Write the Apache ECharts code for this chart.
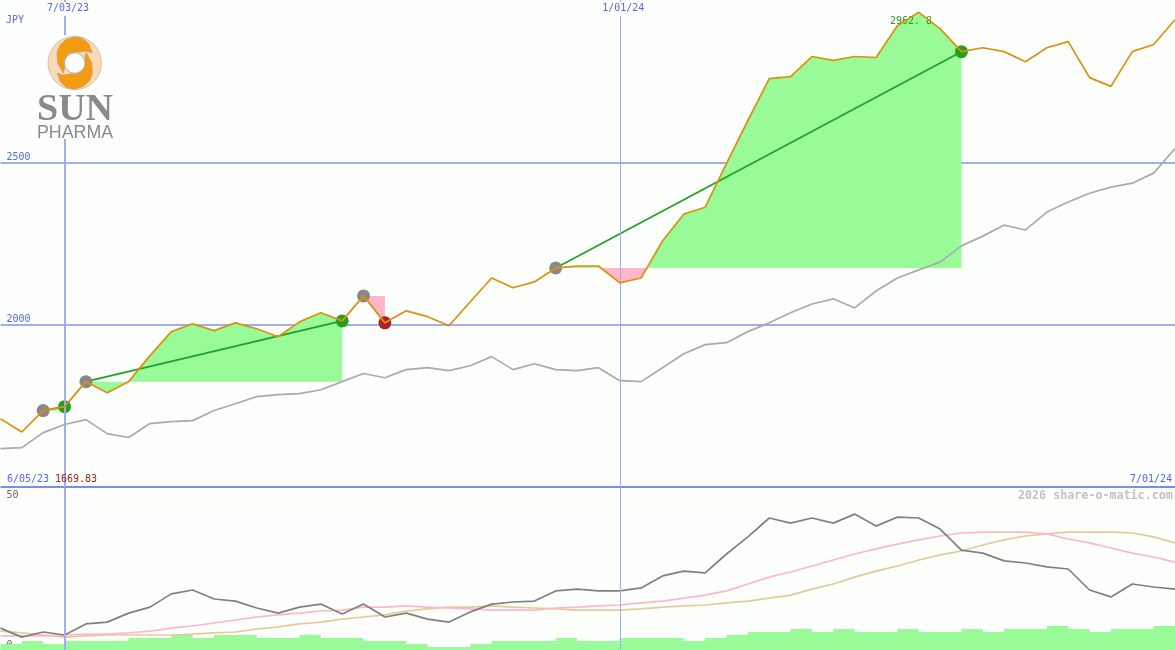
<!DOCTYPE html>
<html>
<head>
<meta charset="utf-8">
<title>SUN PHARMA</title>
<style>
  html, body { margin: 0; padding: 0; background: #fdfffd; }
  #chart { width: 1175px; height: 650px; }
</style>
<script src="https://cdn.jsdelivr.net/npm/echarts@6/dist/echarts.min.js"></script>
</head>
<body>
<div id="chart"></div>
<script>
// weekly dates, one per point
const weeks = ['6/12/23','6/19/23','6/26/23','7/03/23','7/10/23','7/17/23','7/24/23','7/31/23','8/07/23','8/14/23',
  '8/21/23','8/28/23','9/04/23','9/11/23','9/18/23','9/25/23','10/02/23','10/09/23','10/16/23','10/23/23',
  '10/30/23','11/06/23','11/13/23','11/20/23','11/27/23','12/04/23','12/11/23','12/18/23','12/25/23','1/01/24',
  '1/08/24','1/15/24','1/22/24','1/29/24','2/05/24','2/12/24','2/19/24','2/26/24','3/04/24','3/11/24',
  '3/18/24','3/25/24','4/01/24','4/08/24','4/15/24','4/22/24','4/29/24','5/06/24','5/13/24','5/20/24',
  '5/27/24','6/03/24','6/10/24','6/17/24','6/24/24','7/01/24'];

// price panel
const price = [1711,1670,1736,1748,1825,1791,1825,1905,1979,2003,1982,2006,1988,1963,2009,2037,2012,2089,2006,2043,
  2025,1997,2071,2144,2114,2132,2175,2181,2181,2129,2144,2258,2341,2362,2497,2629,2758,2764,2826,2814,
  2826,2823,2921,2962,2912,2841,2853,2841,2810,2853,2872,2761,2734,2841,2863,2939];
const benchmark = [1619,1622,1668,1693,1708,1665,1653,1696,1702,1705,1736,1757,1779,1785,1788,1800,1825,1850,1837,1862,
  1868,1859,1874,1902,1862,1880,1862,1859,1868,1828,1825,1868,1911,1939,1945,1979,2006,2037,2064,2080,
  2052,2104,2144,2169,2193,2243,2273,2307,2292,2347,2378,2405,2424,2436,2467,2543];
const priceTicks = [2000, 2500];

// lower panel
const oscillator = [7.3,4.3,6,5,8.7,9.3,12.3,14.3,18.7,20,17,16.3,14,12.3,14.3,15.3,12,15.3,11,12.3,
  10.3,9.3,12.7,15.3,16,16.3,19.7,20.3,19.7,19.7,20.7,24.7,26.3,25.7,32,37.7,44,42.3,44,42.3,
  45.3,41.3,44.3,44,40.3,33.3,32.3,29.7,29,27.7,27,20,17.7,22,21,20.3];
const avgFast = [4.7,4.7,4.7,5,5.3,5.3,5.7,6.3,7.3,8,9,10,11,11.7,12.3,13,13.3,14.3,14.3,14.7,
  14.3,14,13.7,13.3,13.3,13.3,14,14.3,14.7,15,15.7,16.3,17.3,18.3,19.7,22,24.3,26,28,30,
  32,33.7,35.3,36.7,38,39,39.3,39.3,39.3,38.7,37,35.7,34,32.3,31,29.3];
const avgSlow = [6.3,5.7,5,4.3,4.7,5,5,5,5,5.3,5.7,6,7,7.7,8.7,9.3,10.3,11,11.7,13,
  13.7,14.3,14.3,14.7,14.3,14,13.7,13.3,13.3,13.3,13.7,14.3,14.7,15,15.7,16.3,17.3,18.3,20.3,22,
  24.3,26.3,28,30,31.7,33,35,36.7,38,38.7,39.3,39.3,39.3,39,37.7,35.7];
const volume = [2,3,2,3,3,3,4,4,5,4,5,5,4,4,5,4,4,3,3,2,1,1,2,3,3,3,4,3,3,4,4,4,3,4,5,6,6,7,6,7,6,6,7,6,6,7,6,7,7,8,7,6,7,7,8,8];

// trades: index of the opening and of the closing week
const tradeOpen = [2, 4, 17, 26];
const tradeClose = [3, 16, 18, 45];

const markedWeeks = ['7/03/23', '1/01/24'];
const BG = '#fdfffd', BLUE = '#5566ee', MONO = '"DejaVu Sans Mono", monospace';
const GREEN = '#98fb98', PINK = '#ffb6c8', LINE_W = 1.7;

function noSymbolLine(name, data, color, z, gridIndex) {
  return {
    name: name, type: 'line', data: data, xAxisIndex: gridIndex, yAxisIndex: gridIndex,
    showSymbol: false, silent: true, animation: false, z: z,
    lineStyle: { color: color, width: LINE_W }
  };
}

// splits a trade into runs above/below its entry price, cut where the price crosses it
function tradeRuns(open, close) {
  const entry = price[open];
  const runs = [];
  let run = [[open, entry]];
  for (let i = open; i < close; i++) {
    const a = price[i] - entry, b = price[i + 1] - entry;
    if (a * b < 0) {
      const cross = i + a / (a - b);
      run.push([cross, entry]);
      runs.push(run);
      run = [[cross, entry]];
    }
    run.push([i + 1, price[i + 1]]);
  }
  run.push([close, entry]);
  runs.push(run);
  return runs;
}

function renderTrade(params, api) {
  const t = params.dataIndex;
  const entry = price[tradeOpen[t]];
  const toPixel = (x, v) => {
    const a = api.coord([Math.floor(x), v]);
    const b = api.coord([Math.ceil(x), v]);
    return [a[0] + (x - Math.floor(x)) * (b[0] - a[0]), a[1]];
  };
  return {
    type: 'group',
    children: tradeRuns(tradeOpen[t], tradeClose[t]).map(run => ({
      type: 'polygon',
      shape: { points: run.map(p => toPixel(p[0], p[1])) },
      style: { fill: run.some(p => p[1] > entry) ? GREEN : PINK, stroke: null }
    }))
  };
}

function verticalMarks(gridIndex, color) {
  const s = noSymbolLine('marks', price.map(() => null), color, 1, gridIndex);
  s.markLine = {
    silent: true, symbol: 'none', animation: false, label: { show: false },
    data: [
      { xAxis: markedWeeks[0], lineStyle: { color: color, width: 2, type: 'solid' } },
      { xAxis: markedWeeks[1], lineStyle: { color: color, width: 1, type: 'solid' } }
    ]
  };
  return s;
}

const series = [verticalMarks(0, '#a0aef0'), verticalMarks(1, '#a0aef0')];

series.push({
  type: 'custom', name: 'trades', xAxisIndex: 0, yAxisIndex: 0, z: 2, silent: true, animation: false, clip: true,
  data: tradeOpen.map((open, t) => [open, tradeClose[t]]),
  encode: { x: 0, y: 1 },
  renderItem: renderTrade
});

series.push(noSymbolLine('benchmark', benchmark, '#aaaaaa', 3, 0));

// entry and exit dots
const dots = [];
tradeOpen.forEach((open, t) => {
  const close = tradeClose[t];
  dots.push({ value: [weeks[open], price[open]], itemStyle: { color: '#888888' } });
  dots.push({ value: [weeks[close], price[close]], itemStyle: { color: price[close] > price[open] ? '#22a022' : '#b02020' } });
});
series.push({ type: 'scatter', data: dots, symbolSize: 13, silent: true, animation: false, z: 4,
  itemStyle: { opacity: 1 } });

tradeOpen.forEach((open, t) => {
  const close = tradeClose[t];
  if (price[close] <= price[open]) return;
  const s = noSymbolLine('trend', weeks.map((w, i) => (i === open || i === close) ? price[i] : null), '#22a022', 4, 0);
  s.connectNulls = true;
  series.push(s);
});

series.push(noSymbolLine('price', price, '#dd9010', 5, 0));

const volumeSeries = noSymbolLine('volume', volume, GREEN, 2, 1);
volumeSeries.step = 'end';
volumeSeries.lineStyle = { width: 0 };
volumeSeries.areaStyle = { color: GREEN, opacity: 1 };
series.push(volumeSeries);
series.push(noSymbolLine('slow', avgSlow, '#e2cb98', 3, 1));
series.push(noSymbolLine('fast', avgFast, '#ffb6c8', 3, 1));
series.push(noSymbolLine('oscillator', oscillator, '#808080', 4, 1));

function monoText(x, y, text, color, z) {
  return { type: 'text', x: x, y: y, z: z || 20, silent: true,
    style: { text: text, fill: color, font: '10px ' + MONO } };
}

// logo lobe, drawn once and turned around the centre
const lobe = [[63.3,73.3],[57.5,63],[57,52],[60,45],[66,39.5],[75,36.7],[83,38.5],[89,44],[92.3,53],[86,51],[80,52],[74.7,52],[69,53.5],[65,58],[63.7,63],[64.5,68.5]];
function logoLobe(angle, color) {
  return { type: 'polygon', z: 31, silent: true, originX: 74.7, originY: 63, rotation: angle,
    shape: { points: lobe }, style: { fill: color, stroke: '#a09a90', lineWidth: 0.5 } };
}

const graphic = [
  monoText(6, 15, 'JPY', BLUE),
  monoText(7, 474, '6/05/23', BLUE),
  monoText(55, 474, '1669.83', '#a02020'),
  monoText(1130, 474, '7/01/24', BLUE),
  monoText(890, 16, '2962. 8', '#229922', 3),
  { type: 'text', x: 1018, y: 490, z: 20, silent: true,
    style: { text: '2026 share-o-matic.com', fill: '#c2c2c2', font: 'bold 11.7px ' + MONO } },
  { type: 'rect', z: 30, silent: true, shape: { x: 37, y: 35, width: 77, height: 104 }, style: { fill: BG } },
  { type: 'circle', z: 31, silent: true, shape: { cx: 74.7, cy: 63, r: 26.7 },
    style: { fill: '#fdd9b5', stroke: '#a09a90', lineWidth: 0.5 } },
  logoLobe(0, '#f39c12'),
  logoLobe(Math.PI, '#f39c12'),
  { type: 'circle', z: 32, silent: true, shape: { cx: 74.7, cy: 63, r: 10.3 },
    style: { fill: BG, stroke: '#a09a90', lineWidth: 0.8 } },
  { type: 'text', x: 37, y: 91, z: 32, silent: true,
    style: { text: 'SUN', fill: '#8a8a8a', font: 'bold 38px "Liberation Serif"' } },
  { type: 'text', x: 37, y: 124, z: 32, silent: true,
    style: { text: 'PHARMA', fill: '#8a8a8a', font: '17.8px "Liberation Sans"' } }
];

const option = {
  backgroundColor: BG,
  animation: false,
  grid: [
    { left: 0.5, right: -0.5, top: -0.8, height: 488 },
    { left: 0.5, right: -0.5, top: 488, height: 162 }
  ],
  xAxis: [
    {
      type: 'category', gridIndex: 0, data: weeks, boundaryGap: false,
      axisLine: { show: false }, axisTick: { show: false }, axisLabel: { show: false }, splitLine: { show: false }
    },
    {
      type: 'category', gridIndex: 1, data: weeks, boundaryGap: false,
      axisLine: { show: false }, axisTick: { show: false }, axisLabel: { show: false }, splitLine: { show: false }
    }
  ],
  yAxis: [
    {
      type: 'value', gridIndex: 0, min: 1500, max: 3000, interval: 500,
      axisLine: { show: false }, axisTick: { show: false },
      splitLine: { show: true, showMinLine: true, showMaxLine: false,
        lineStyle: { width: 2, color: ['#7b8cf0', '#a0aef0', '#a0aef0', '#a0aef0'] } },
      axisLabel: {
        inside: true, margin: 6, color: BLUE, fontFamily: MONO, fontSize: 10, verticalAlign: 'bottom', lineHeight: 10,
        formatter: v => priceTicks.includes(v) ? String(v) : ''
      }
    },
    {
      type: 'value', gridIndex: 1, min: 0, max: 54, interval: 50,
      axisLine: { show: false }, axisTick: { show: false }, splitLine: { show: false },
      axisLabel: {
        inside: true, margin: 6, color: '#666666', fontFamily: MONO, fontSize: 10, verticalAlign: 'bottom', lineHeight: 10,
        showMaxLabel: false
      }
    }
  ],
  graphic: graphic,
  series: series
};

const chart = echarts.init(document.getElementById('chart'), null, { renderer: 'canvas' });
chart.setOption(option);

// date labels sit on their vertical lines, placed through the axis
chart.setOption({
  graphic: graphic.concat(markedWeeks.map(w => ({
    type: 'text', x: chart.convertToPixel({ xAxisIndex: 0 }, w) + 3.5, y: 2, z: 20, silent: true,
    style: { text: w, fill: BLUE, font: '10px ' + MONO, align: 'center', backgroundColor: BG, padding: [1, 1, 3, 1] }
  })))
});
</script>
</body>
</html>
